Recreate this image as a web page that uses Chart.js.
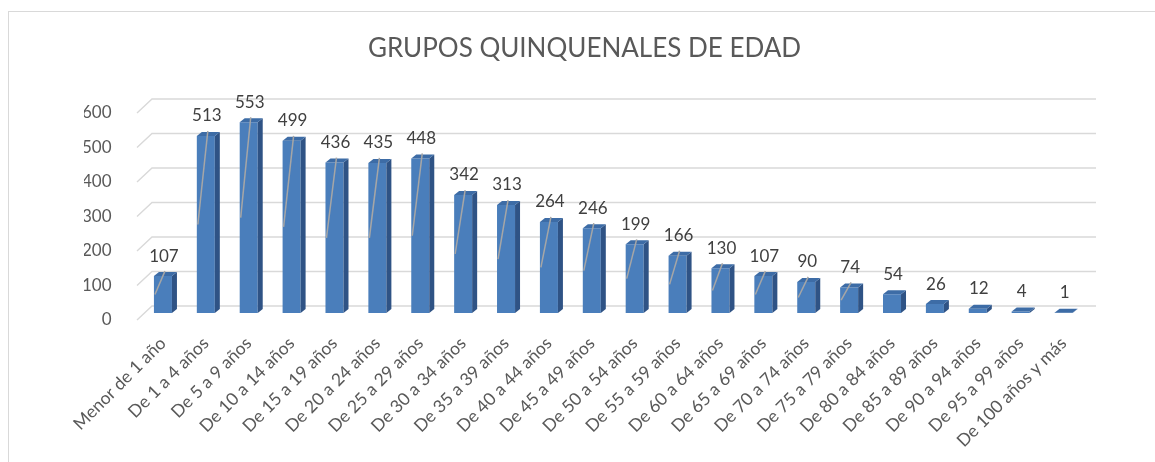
<!DOCTYPE html>
<html>
<head>
<meta charset="utf-8">
<script src="https://cdn.jsdelivr.net/npm/chart.js@4"></script>
<style>
    body { margin: 0; background: #fff; overflow: hidden; }
    #frame {
        position: absolute; left: 8px; top: 11px;
        width: 1170px; height: 480px;
        border: 1.5px solid #d9d9d9;
    }
    #wrap { position: absolute; left: 0; top: 0; width: 1155px; height: 462px; }
</style>
</head>
<body>
<div id="frame"></div>
<div id="wrap"><canvas id="chart" width="1155" height="462"></canvas></div>
<script>
const categories = [
    'Menor de 1 año', 'De 1 a 4 años', 'De 5 a 9 años', 'De 10 a 14 años',
    'De 15 a 19 años', 'De 20 a 24 años', 'De 25 a 29 años', 'De 30 a 34 años',
    'De 35 a 39 años', 'De 40 a 44 años', 'De 45 a 49 años', 'De 50 a 54 años',
    'De 55 a 59 años', 'De 60 a 64 años', 'De 65 a 69 años', 'De 70 a 74 años',
    'De 75 a 79 años', 'De 80 a 84 años', 'De 85 a 89 años', 'De 90 a 94 años',
    'De 95 a 99 años', 'De 100 años y más'
];
const poblacion = [107, 513, 553, 499, 436, 435, 448, 342, 313, 264, 246, 199, 166, 130, 107, 90, 74, 54, 26, 12, 4, 1];
const yTicks = [0, 100, 200, 300, 400, 500, 600];

const FRONT = '#4a7ebb';
const SIDE = '#2f5385';
const TOP = '#3d6ca6';
const DEPTH_X = 5, DEPTH_Y = 4;

// 3D looking gridlines (Excel style) drawn behind the bars
const grid3d = {
    id: 'grid3d',
    beforeDatasetsDraw(chart) {
        const { ctx, chartArea, scales: { y } } = chart;
        ctx.save();
        ctx.strokeStyle = '#d9d9d9';
        ctx.lineWidth = 1.4;
        yTicks.forEach(v => {
            const py = y.getPixelForValue(v);
            ctx.beginPath();
            ctx.moveTo(chartArea.left - 4.5, py + 7);
            ctx.lineTo(chartArea.left + 10.5, py - 7);
            ctx.lineTo(chartArea.right + 11, py - 7);
            ctx.stroke();
        });
        ctx.restore();
    }
};

// side and top faces, value labels and leader lines
const bars3d = {
    id: 'bars3d',
    afterDatasetsDraw(chart) {
        const { ctx } = chart;
        const meta = chart.getDatasetMeta(0);
        ctx.save();
        meta.data.forEach((bar, i) => {
            const half = bar.width / 2;
            const l = bar.x - half, r = bar.x + half;
            const top = bar.y, base = bar.base;

            ctx.fillStyle = SIDE;
            ctx.beginPath();
            ctx.moveTo(r, top);
            ctx.lineTo(r + DEPTH_X, top - DEPTH_Y);
            ctx.lineTo(r + DEPTH_X, base - DEPTH_Y);
            ctx.lineTo(r, base);
            ctx.closePath();
            ctx.fill();

            ctx.fillStyle = TOP;
            ctx.beginPath();
            ctx.moveTo(l, top);
            ctx.lineTo(l + DEPTH_X, top - DEPTH_Y);
            ctx.lineTo(r + DEPTH_X, top - DEPTH_Y);
            ctx.lineTo(r, top);
            ctx.closePath();
            ctx.fill();

            const labelY = top - 20;
            if (poblacion[i] >= 70) {
                ctx.strokeStyle = '#a6a6a6';
                ctx.lineWidth = 1.5;
                ctx.beginPath();
                ctx.moveTo(bar.x + 2, top - 5);
                ctx.lineTo(l + 1, (top + base) / 2);
                ctx.stroke();
            }

            ctx.fillStyle = '#404040';
            ctx.font = '17px Lato';
            ctx.textAlign = 'center';
            ctx.textBaseline = 'middle';
            ctx.fillText(String(poblacion[i]), bar.x + 1, labelY);
        });
        ctx.restore();
    }
};

new Chart(document.getElementById('chart'), {
    type: 'bar',
    data: {
        labels: categories,
        datasets: [{
            data: poblacion,
            backgroundColor: FRONT,
            borderWidth: 0,
            barPercentage: 0.42,
            categoryPercentage: 1
        }]
    },
    options: {
        responsive: false,
        animation: false,
        layout: { padding: { left: 84, right: 70, top: 0, bottom: 0 } },
        plugins: {
            legend: { display: false },
            tooltip: { enabled: false },
            title: {
                display: true,
                text: 'GRUPOS QUINQUENALES DE EDAD',
                color: '#595959',
                font: { family: 'Lato', size: 26, weight: 'normal' },
                padding: { top: 33.5, bottom: 41.3 }
            }
        },
        scales: {
            x: {
                grid: { display: false },
                border: { display: false },
                ticks: {
                    color: '#595959',
                    font: { family: 'Lato', size: 17.5 },
                    minRotation: 45,
                    maxRotation: 45,
                    padding: 12,
                    autoSkip: false
                },
                afterFit(scale) { scale.height = 149; }
            },
            y: {
                min: 0,
                max: 600,
                grid: { display: false },
                border: { display: false },
                ticks: {
                    stepSize: 100,
                    color: '#595959',
                    font: { family: 'Lato', size: 17 },
                    padding: 22,
                    labelOffset: 7
                },
                afterFit(scale) { scale.width = 57.5; }
            }
        }
    },
    plugins: [grid3d, bars3d]
});
</script>
</body>
</html>
